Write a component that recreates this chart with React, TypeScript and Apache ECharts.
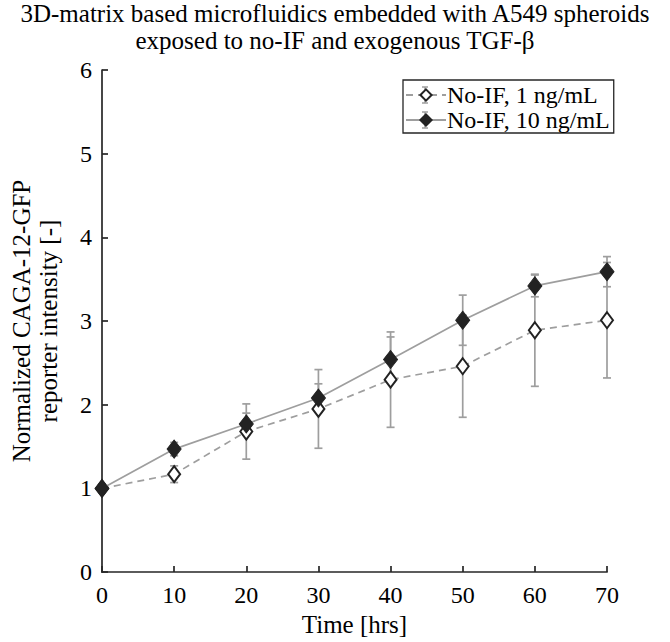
import React, { useEffect, useRef } from "react";
import * as echarts from "echarts";

const times = [0, 10, 20, 30, 40, 50, 60, 70];
const meanLow = [1.0, 1.17, 1.68, 1.95, 2.3, 2.46, 2.89, 3.01];
const errLow = [0, 0.1, 0.33, 0.47, 0.57, 0.61, 0.67, 0.69];
const meanHigh = [1.0, 1.47, 1.77, 2.08, 2.54, 3.01, 3.42, 3.59];
const errHigh = [0, 0.08, 0.13, 0.17, 0.27, 0.3, 0.13, 0.18];
const seriesNames = ["No-IF, 1 ng/mL", "No-IF, 10 ng/mL"];
const xTicks = { min: 0, max: 70, interval: 10 };
const yTicks = { min: 0, max: 6, interval: 1 };

const FONT = "Liberation Serif";
const AXIS = "#262626";
const GREY = "#9e9e9e";

function errorData(means: number[], errs: number[]) {
  return times.map((t, i) => [t, means[i] - errs[i], means[i] + errs[i]]);
}

function errRender(params: any, api: any) {
  const x = api.value(0);
  const lo = api.coord([x, api.value(1)]);
  const hi = api.coord([x, api.value(2)]);
  const cap = 4;
  const style = { stroke: GREY, lineWidth: 1.7, fill: "none" };
  return {
    type: "group",
    children: [
      { type: "line", shape: { x1: lo[0], y1: lo[1], x2: hi[0], y2: hi[1] }, style },
      { type: "line", shape: { x1: lo[0] - cap, y1: lo[1], x2: lo[0] + cap, y2: lo[1] }, style },
      { type: "line", shape: { x1: hi[0] - cap, y1: hi[1], x2: hi[0] + cap, y2: hi[1] }, style },
    ],
  };
}

// decorative error-bar glyphs behind the legend symbols
function legendGlyph(cx: number, cy: number) {
  const s = { stroke: GREY, lineWidth: 1.5 };
  return [
    { type: "line", z: 0, shape: { x1: cx, y1: cy - 8, x2: cx, y2: cy + 8 }, style: s },
    { type: "line", z: 0, shape: { x1: cx - 3, y1: cy - 8, x2: cx + 3, y2: cy - 8 }, style: s },
    { type: "line", z: 0, shape: { x1: cx - 3, y1: cy + 8, x2: cx + 3, y2: cy + 8 }, style: s },
  ];
}

export default function App() {
  const ref = useRef<HTMLDivElement>(null);
  useEffect(() => {
    if (!ref.current) return;
    const chart = echarts.init(ref.current, undefined, { renderer: "svg" });
    chart.setOption({
      animation: false,
      backgroundColor: "#ffffff",
      textStyle: { fontFamily: FONT },
      title: {
        text: "3D-matrix based microfluidics embedded with A549 spheroids\nexposed to no-IF and exogenous TGF-β",
        left: "center",
        top: 0,
        padding: [0, 0, 0, 0],
        textStyle: {
          fontFamily: FONT,
          fontSize: 25,
          fontWeight: "normal",
          color: "#000",
          lineHeight: 27,
        },
      },
      grid: { left: 97, right: 63, top: 70, bottom: 63, containLabel: false },
      graphic: [...legendGlyph(425, 95), ...legendGlyph(425, 120)],
      legend: {
        orient: "vertical",
        left: 403,
        top: 80,
        width: 214,
        padding: [3, 4, 1, 2],
        itemGap: 1,
        itemWidth: 40,
        itemHeight: 14,
        borderColor: "#262626",
        borderWidth: 1.3,
        backgroundColor: "transparent",
        textStyle: { fontFamily: FONT, fontSize: 24, color: "#000", padding: [0, 0, 0, -4] },
        data: seriesNames,
      },
      xAxis: {
        type: "value",
        min: xTicks.min,
        max: xTicks.max,
        interval: xTicks.interval,
        name: "Time [hrs]",
        nameLocation: "middle",
        nameGap: 38,
        nameTextStyle: { fontFamily: FONT, fontSize: 25, color: "#000" },
        axisLine: { show: true, lineStyle: { color: AXIS, width: 1.7 } },
        axisTick: { show: true, inside: true, length: 6, lineStyle: { color: AXIS, width: 1.7 } },
        axisLabel: { fontFamily: FONT, fontSize: 24, color: "#000", margin: 11 },
        splitLine: { show: false },
      },
      yAxis: {
        type: "value",
        min: yTicks.min,
        max: yTicks.max,
        interval: yTicks.interval,
        name: "Normalized CAGA-12-GFP\nreporter intensity [-]",
        nameLocation: "middle",
        nameGap: 40,
        nameTextStyle: { fontFamily: FONT, fontSize: 25, color: "#000", lineHeight: 27 },
        axisLine: { show: true, lineStyle: { color: AXIS, width: 1.7 } },
        axisTick: { show: true, inside: true, length: 6, lineStyle: { color: AXIS, width: 1.7 } },
        axisLabel: { fontFamily: FONT, fontSize: 24, color: "#000", margin: 10 },
        splitLine: { show: false },
      },
      series: [
        {
          type: "custom",
          name: "err1",
          renderItem: errRender,
          data: errorData(meanLow, errLow),
          z: 2,
          silent: true,
        },
        {
          type: "custom",
          name: "err10",
          renderItem: errRender,
          data: errorData(meanHigh, errHigh),
          z: 2,
          silent: true,
        },
        {
          type: "line",
          name: seriesNames[0],
          data: times.map((t, i) => [t, meanLow[i]]),
          symbol: "diamond",
          symbolSize: [12, 16],
          lineStyle: { color: GREY, width: 1.7, type: [7, 5] },
          itemStyle: { color: "#ffffff", borderColor: "#222", borderWidth: 2 },
          z: 3,
        },
        {
          type: "line",
          name: seriesNames[1],
          data: times.map((t, i) => [t, meanHigh[i]]),
          symbol: "diamond",
          symbolSize: [14, 18],
          lineStyle: { color: GREY, width: 1.7 },
          itemStyle: { color: "#222", borderColor: "#222", borderWidth: 1 },
          z: 4,
        },
      ],
    });
    return () => chart.dispose();
  }, []);
  return <div ref={ref} style={{ width: 670, height: 642, position: "absolute", left: 0, top: 0 }} />;
}
